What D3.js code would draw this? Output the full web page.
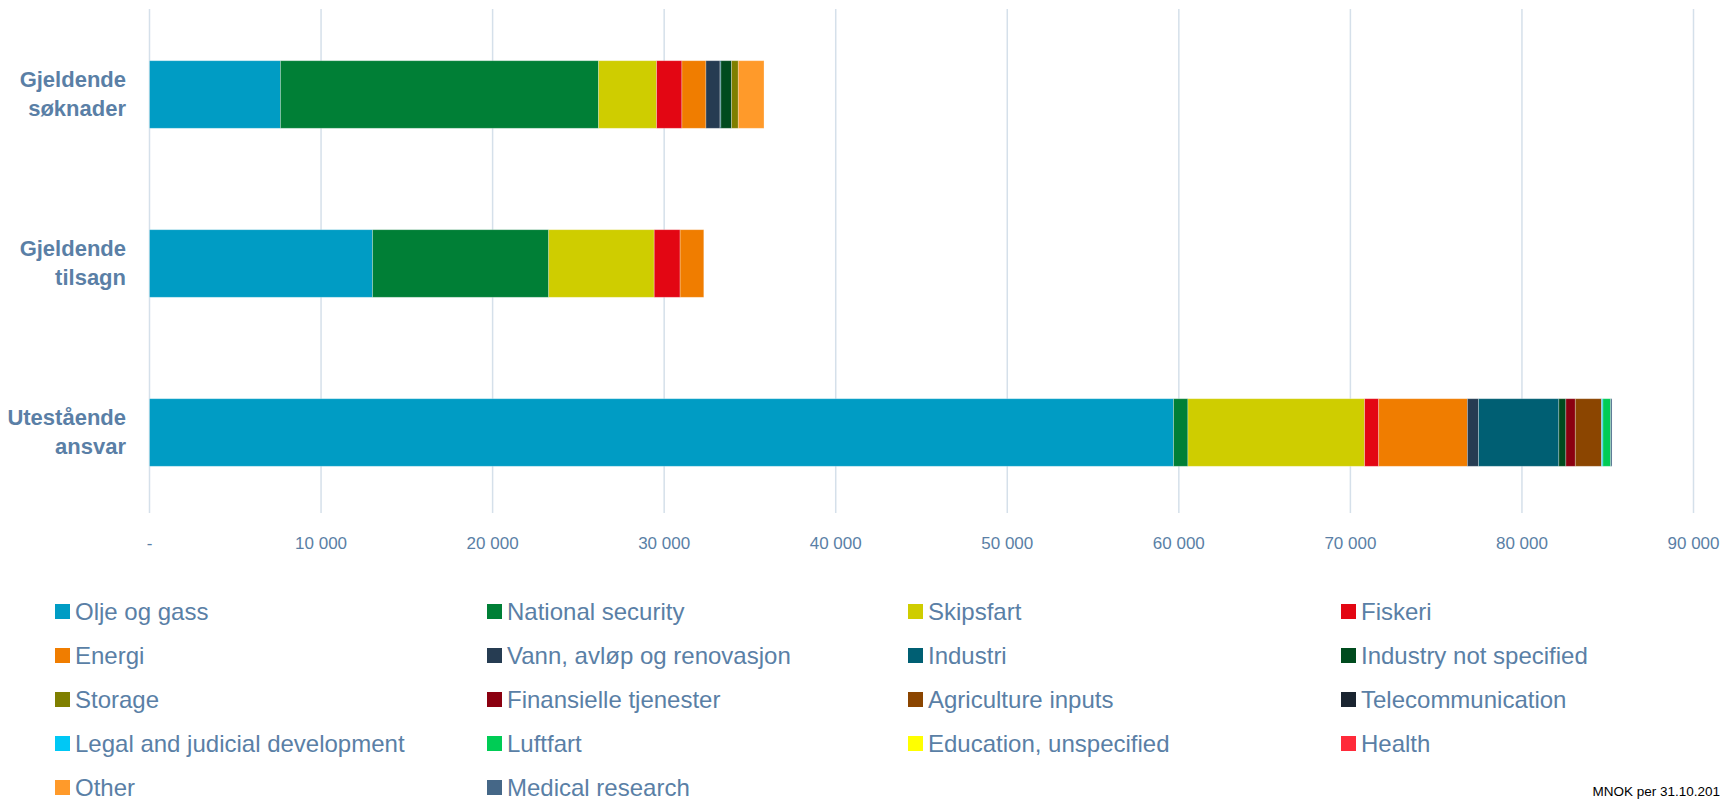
<!DOCTYPE html>
<html><head><meta charset="utf-8">
<script src="https://cdn.jsdelivr.net/npm/d3@7"></script>
<style>
html,body{margin:0;padding:0;background:#fff;overflow:hidden;}
svg{display:block;font-family:"Liberation Sans",Arial,sans-serif;}
</style></head>
<body><svg id="c" width="1725" height="802"></svg>
<script>
const categories = [["Gjeldende","søknader"],["Gjeldende","tilsagn"],["Utestående","ansvar"]];
const seriesNames = ["Olje og gass","National security","Skipsfart","Fiskeri","Energi","Vann, avløp og renovasjon","Industri","Industry not specified","Storage","Finansielle tjenester","Agriculture inputs","Telecommunication","Legal and judicial development","Luftfart","Education, unspecified","Health","Other","Medical research"];
const seriesColors = ["#009cc4","#007f36","#cfcd00","#e30613","#f07d00","#263c52","#005f73","#004b1e","#7f7f00","#8b0010","#8b4500","#1a2430","#00c8f5","#00cc55","#ffff00","#ff2a3a","#ff9a2a","#456787"];
// values per series: [søknader, tilsagn, ansvar]
const oljeOgGass = [7630, 13000, 59690];
const nationalSecurity = [18550, 10270, 840];
const skipsfart = [3380, 6150, 10300];
const fiskeri = [1475, 1510, 820];
const energi = [1400, 1380, 5170];
const vann = [820, 0, 650];
const industri = [50, 0, 4680];
const industryNotSpecified = [625, 0, 410];
const storage = [390, 0, 0];
const finansielle = [0, 0, 550];
const agriculture = [0, 0, 1530];
const telecom = [0, 0, 0];
const legal = [0, 0, 80];
const luftfart = [0, 0, 450];
const education = [0, 0, 0];
const health = [0, 0, 0];
const other = [1500, 0, 0];
const medicalResearch = [0, 0, 80];
const seriesValues = [oljeOgGass,nationalSecurity,skipsfart,fiskeri,energi,vann,industri,industryNotSpecified,storage,finansielle,agriculture,telecom,legal,luftfart,education,health,other,medicalResearch];
const tickValues = [0,10000,20000,30000,40000,50000,60000,70000,80000,90000];
const tickLabels = ["-","10 000","20 000","30 000","40 000","50 000","60 000","70 000","80 000","90 000"];
const note = "MNOK per 31.10.201";

const svg = d3.select("#c");
const textColor = "#5a7fa6";
const x = d3.scaleLinear().domain([0,90000]).range([149.5,1693.5]);
const y = d3.scaleBand().domain(d3.range(categories.length)).range([10,517]).paddingInner(0.6).paddingOuter(0.3);

// grid
svg.append("g").selectAll("line").data(tickValues).join("line")
  .attr("x1",d=>x(d)).attr("x2",d=>x(d)).attr("y1",9).attr("y2",513)
  .attr("stroke","#d5e0ea").attr("stroke-width",1.5);

// tick labels
svg.append("g").selectAll("text").data(tickValues).join("text")
  .attr("x",d=>x(d)).attr("y",549).attr("text-anchor","middle")
  .attr("font-size",17).attr("fill",textColor).text((d,i)=>tickLabels[i]);

// stacked bars
const rows = categories.map((c,i)=>{const o={idx:i}; seriesNames.forEach((s,j)=>o[s]=seriesValues[j][i]); return o;});
const stack = d3.stack().keys(seriesNames)(rows);
svg.append("g").selectAll("g").data(stack).join("g")
  .attr("fill",(d,i)=>seriesColors[i])
  .selectAll("rect").data(d=>d.filter(p=>p[1]-p[0]>0)).join("rect")
  .attr("x",d=>x(d[0])).attr("width",d=>x(d[1])-x(d[0]))
  .attr("y",d=>y(d.data.idx)).attr("height",y.bandwidth())
  .attr("stroke","rgba(255,255,255,0.35)").attr("stroke-width",0.8);

// category labels
const cl = svg.append("g").selectAll("text").data(categories).join("text")
  .attr("text-anchor","end").attr("font-weight","bold").attr("font-size",22)
  .attr("fill",textColor);
cl.each(function(d,i){
  const t=d3.select(this); const cy=y(i)+y.bandwidth()/2;
  d.forEach((line,k)=>t.append("tspan").attr("x",126).attr("y",cy-8+k*29).text(line));
});

// legend
const colX=[55,487,908,1341], rowY=[612,656,700,744,788];
const lg = svg.append("g").selectAll("g").data(seriesNames).join("g")
  .attr("transform",(d,i)=>`translate(${colX[i%4]},${rowY[Math.floor(i/4)]})`);
lg.append("rect").attr("x",0).attr("y",-8).attr("width",15).attr("height",15).attr("fill",(d,i)=>seriesColors[i]);
lg.append("text").attr("x",20).attr("y",8).attr("font-size",24).attr("fill",textColor).text(d=>d);

svg.append("text").attr("x",1720).attr("y",796).attr("text-anchor","end").attr("font-size",13.5).attr("fill","#000").text(note);
</script></body></html>
